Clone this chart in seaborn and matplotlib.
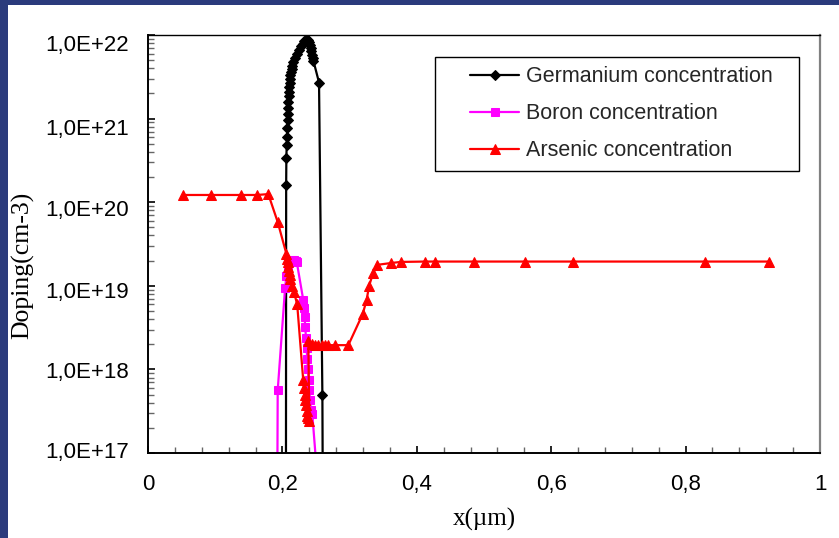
import numpy as np
import pandas as pd
import matplotlib
matplotlib.use("Agg")
import matplotlib.pyplot as plt
import matplotlib.transforms as mtransforms
import seaborn as sns
from matplotlib.patches import Rectangle
from matplotlib.ticker import LogLocator, MultipleLocator, NullFormatter

# ---------------- data ----------------
ge_x = [0.2053, 0.2056, 0.2059, 0.2064, 0.2069, 0.2073, 0.2077, 0.2081, 0.2085,
        0.2089, 0.2093, 0.2097, 0.2101, 0.2106, 0.2112, 0.2119, 0.2127, 0.2137,
        0.2149, 0.2162, 0.2182, 0.2212, 0.2247, 0.2278, 0.2304, 0.2325, 0.2345,
        0.2365, 0.2385, 0.2400, 0.2412, 0.2422, 0.2432, 0.2442, 0.2452, 0.2462,
        0.2545, 0.2595, 0.2600]
ge_y = [5e16, 1.6e20, 3.4e20, 4.8e20, 6.0e20, 7.8e20, 9.6e20, 1.15e21, 1.35e21,
        1.6e21, 1.85e21, 2.1e21, 2.4e21, 2.7e21, 3.0e21, 3.3e21, 3.6e21, 3.9e21,
        4.3e21, 4.7e21, 5.3e21, 6.0e21, 6.7e21, 7.3e21, 7.9e21, 8.4e21, 8.7e21,
        8.8e21, 8.6e21, 8.2e21, 7.6e21, 7.0e21, 6.4e21, 5.8e21, 5.3e21, 4.9e21,
        2.7e21, 4.9e17, 5e16]

b_x = [0.1925, 0.1930, 0.2040, 0.2060, 0.2085, 0.2110, 0.2140, 0.2175, 0.2200,
       0.2215, 0.2310, 0.2320, 0.2330, 0.2340, 0.2350, 0.2360, 0.2370, 0.2380,
       0.2390, 0.2400, 0.2410, 0.2425, 0.2445, 0.2520]
b_y = [5e16, 5.6e17, 9.4e18, 1.3e19, 1.7e19, 1.95e19, 2.05e19, 2.05e19, 2.0e19,
       1.9e19, 6.8e18, 5.5e18, 4.2e18, 3.2e18, 2.4e18, 1.8e18, 1.35e18, 1.0e18,
       7.5e17, 5.6e17, 4.3e17, 3.3e17, 2.9e17, 5e16]

as_x = [0.052, 0.094, 0.138, 0.162, 0.179, 0.193, 0.206, 0.207, 0.208, 0.209,
        0.210, 0.211, 0.212, 0.214, 0.217, 0.222, 0.231, 0.232, 0.233, 0.234,
        0.235, 0.236, 0.237, 0.238, 0.240, 0.2386, 0.2440, 0.2485, 0.2535,
        0.2585, 0.2635, 0.2683, 0.2783, 0.2981, 0.3195, 0.3254, 0.329, 0.335,
        0.341, 0.361, 0.376, 0.412, 0.427, 0.485, 0.561, 0.632, 0.829, 0.924]
as_y = [1.22e20, 1.22e20, 1.22e20, 1.22e20, 1.25e20, 5.8e19, 2.4e19, 2.1e19,
        1.9e19, 1.7e19, 1.5e19, 1.35e19, 1.2e19, 1.0e19, 8.5e18, 6.0e18, 7.4e17,
        6.0e17, 5.0e17, 4.3e17, 3.7e17, 3.2e17, 2.8e17, 2.6e17, 2.4e17, 2.2e18,
        2.0e18, 1.95e18, 1.95e18, 1.95e18, 1.95e18, 1.95e18, 1.95e18, 1.95e18,
        4.6e18, 6.8e18, 1.0e19, 1.42e19, 1.78e19, 1.87e19, 1.93e19, 1.95e19,
        1.95e19, 1.95e19, 1.95e19, 1.95e19, 1.95e19, 1.95e19]

series_names = ["Germanium concentration", "Boron concentration", "Arsenic concentration"]

x_ticks = [0, 0.2, 0.4, 0.6, 0.8, 1.0]
x_tick_labels = ["0", "0,2", "0,4", "0,6", "0,8", "1"]
y_ticks = [1e17, 1e18, 1e19, 1e20, 1e21, 1e22]
y_tick_labels = ["1,0E+17", "1,0E+18", "1,0E+19", "1,0E+20", "1,0E+21", "1,0E+22"]

# ---------------- style ----------------
sns.set_theme(style="white")
plt.rcParams['font.family'] = ['Liberation Sans', 'DejaVu Sans']

W, H = 839, 538
fig = plt.figure(figsize=(W / 100, H / 100), dpi=100)
fig.patch.set_facecolor('white')

# blue background strips (slide background peeking through)
fig.patches.append(Rectangle((0, 0), 8 / W, 1, transform=fig.transFigure,
                             facecolor='#2b3b7c', edgecolor='none', zorder=0))
fig.patches.append(Rectangle((0, 1 - 5 / H), 1, 5 / H, transform=fig.transFigure,
                             facecolor='#2b3b7c', edgecolor='none', zorder=0))

ax = fig.add_axes([148 / W, (H - 453) / H, 672 / W, 418 / H])
ax.set_facecolor('white')

df_ge = pd.DataFrame({'x': ge_x, 'y': ge_y})
df_b = pd.DataFrame({'x': b_x, 'y': b_y})
df_as = pd.DataFrame({'x': as_x, 'y': as_y})

sns.lineplot(data=df_ge, x='x', y='y', sort=False, estimator=None, ax=ax,
             color='black', lw=1.6, marker='D', markersize=5,
             markeredgecolor='black', markerfacecolor='black',
             label=series_names[0])
sns.lineplot(data=df_b, x='x', y='y', sort=False, estimator=None, ax=ax,
             color='#ff00ff', lw=1.6, marker='s', markersize=5.5,
             markeredgecolor='#ff00ff', markerfacecolor='#ff00ff',
             label=series_names[1])
sns.lineplot(data=df_as, x='x', y='y', sort=False, estimator=None, ax=ax,
             color='#ff0000', lw=1.6, marker='^', markersize=7,
             markeredgecolor='#ff0000', markerfacecolor='#ff0000',
             label=series_names[2])

ax.set_yscale('log')
ax.set_xlim(0, 1)
ax.set_ylim(1e17, 1e22)

ax.set_xticks(x_ticks)
ax.set_xticklabels(x_tick_labels)
ax.xaxis.set_minor_locator(MultipleLocator(0.04))
ax.set_yticks(y_ticks)
ax.set_yticklabels(y_tick_labels)
ax.yaxis.set_minor_locator(LogLocator(base=10, subs=np.arange(2, 10)))
ax.yaxis.set_minor_formatter(NullFormatter())

ax.tick_params(which='both', direction='in', bottom=True, left=True,
               top=False, right=False)
ax.tick_params(which='major', length=5, width=1.2, color='black', labelsize=16,
               labelcolor='black')
ax.tick_params(which='minor', length=4, width=1, color='#666666')
ax.tick_params(axis='x', which='major', pad=15)
ax.tick_params(axis='y', which='major', pad=14)

# the reference's y labels sit slightly lower than their ticks near the top
y_label_shift_px = [-3, 1, 4, 6, 8, 8]
for lab, dy in zip(ax.get_yticklabels(), y_label_shift_px):
    lab.set_transform(lab.get_transform() +
                      mtransforms.ScaledTranslation(0, -dy / 100, fig.dpi_scale_trans))

for side in ['left', 'bottom']:
    ax.spines[side].set_color('black')
    ax.spines[side].set_linewidth(1.4)
ax.spines['top'].set_color('black')
ax.spines['top'].set_linewidth(1.0)
ax.spines['right'].set_color('#808080')
ax.spines['right'].set_linewidth(1.6)
for s in ax.spines.values():
    s.set_visible(True)

ax.set_xlabel("x(µm)", fontsize=18, family=['Liberation Serif', 'DejaVu Serif'],
              color='black')
ax.set_ylabel("Doping(cm-3)", fontsize=18.5, family=['Liberation Serif', 'DejaVu Serif'],
              color='black')
ax.xaxis.set_label_coords(0.5, (453 - 508) / 418)
ax.yaxis.set_label_coords((34 - 148) / 672, (453 - 265) / 418)

# legend frame drawn separately to match the wide box
frame = Rectangle(((435 - 148) / 672, (453 - 171) / 418), (799 - 435) / 672,
                  (171 - 57.5) / 418, transform=ax.transAxes, facecolor='white',
                  edgecolor='black', lw=1.0, zorder=4)
ax.add_patch(frame)
leg = ax.legend(loc='upper left', bbox_to_anchor=((470 - 148) / 672, (453 - 66.5) / 418),
                frameon=False, fontsize=15.5, handlelength=2.28, handletextpad=0.33,
                labelspacing=0.74, borderpad=0, borderaxespad=0)
leg.set_zorder(5)

fig.savefig("out.png", dpi=100, facecolor=fig.get_facecolor())
